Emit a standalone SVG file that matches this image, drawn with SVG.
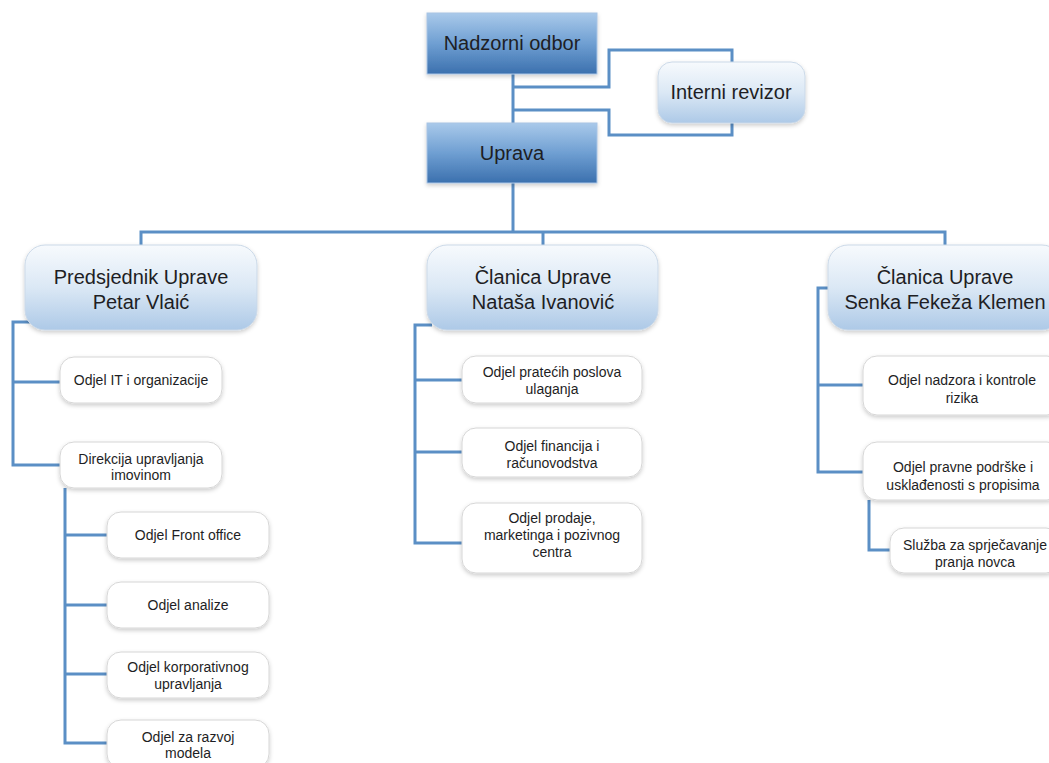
<svg xmlns="http://www.w3.org/2000/svg" width="1049" height="763" viewBox="0 0 1049 763">
<defs>
<linearGradient id="gTop" x1="0" y1="0" x2="0" y2="1">
<stop offset="0" stop-color="#a9c9ea"/>
<stop offset="0.5" stop-color="#6f9fd2"/>
<stop offset="1" stop-color="#3b70ae"/>
</linearGradient>
<linearGradient id="gMid" x1="0" y1="0" x2="0" y2="1">
<stop offset="0" stop-color="#f7fafd"/>
<stop offset="0.5" stop-color="#dbe8f5"/>
<stop offset="1" stop-color="#adc9e7"/>
</linearGradient>
<filter id="sh" x="-10%" y="-10%" width="120%" height="130%">
<feDropShadow dx="0" dy="2" stdDeviation="2" flood-color="#000" flood-opacity="0.2"/>
</filter>
</defs>
<style>
.top{fill:url(#gTop);stroke:#a8c4e4;stroke-width:1;filter:url(#sh)}
.mid{fill:url(#gMid);stroke:#cbd9e8;stroke-width:1;filter:url(#sh)}
.leaf{fill:#ffffff;stroke:#d6d6d6;stroke-width:1;filter:url(#sh)}
.c{fill:none;stroke:#5b8fc5;stroke-width:3}
text{font-family:"Liberation Sans",Arial,sans-serif;text-anchor:middle;fill:#1e1e24}
.t20{font-size:20px}
.t14{font-size:14px}
</style>
<rect width="1049" height="763" fill="#ffffff"/>
<g id="connectors">
<path class="c" d="M513,74 V123"/>
<path class="c" d="M513,87 H609 V50 H732 V62"/>
<path class="c" d="M513,110 H609 V135 H732 V123"/>
<path class="c" d="M513,183 V232"/>
<path class="c" d="M141,245 V232 H945 V245"/>
<path class="c" d="M543,232 V245"/>
<path class="c" d="M32,322 H13 V465 H60"/>
<path class="c" d="M13,382 H60"/>
<path class="c" d="M65,488 V743 H107"/>
<path class="c" d="M65,535 H107"/>
<path class="c" d="M65,605 H107"/>
<path class="c" d="M65,674 H107"/>
<path class="c" d="M432,325 H415 V543 H462"/>
<path class="c" d="M415,380 H462"/>
<path class="c" d="M415,452 H462"/>
<path class="c" d="M830,288 H818 V472 H863"/>
<path class="c" d="M818,385 H863"/>
<path class="c" d="M869,500 V550 H890"/>
</g>
<g id="nadzorni-odbor">
<rect class="top" x="427" y="13" width="170" height="61"/>
<text class="t20" x="512" y="50">Nadzorni odbor</text>
</g>
<g id="interni-revizor">
<rect class="mid" x="658" y="62" width="147" height="61" rx="14"/>
<text class="t20" x="731" y="99">Interni revizor</text>
</g>
<g id="uprava">
<rect class="top" x="427" y="123" width="170" height="60"/>
<text class="t20" x="512" y="160">Uprava</text>
</g>
<g id="predsjednik">
<rect class="mid" x="25" y="245" width="232" height="85" rx="20"/>
<text class="t20" x="141" y="284">Predsjednik Uprave</text>
<text class="t20" x="141" y="309">Petar Vlaić</text>
</g>
<g id="clanica-ivanovic">
<rect class="mid" x="427" y="245" width="231" height="85" rx="20"/>
<text class="t20" x="543" y="284">Članica Uprave</text>
<text class="t20" x="543" y="309">Nataša Ivanović</text>
</g>
<g id="clanica-klemen">
<rect class="mid" x="828" y="245" width="234" height="85" rx="20"/>
<text class="t20" x="945" y="284">Članica Uprave</text>
<text class="t20" x="945" y="309">Senka Fekeža Klemen</text>
</g>
<g id="odjel-it">
<rect class="leaf" x="60" y="357" width="162" height="46" rx="14"/>
<text class="t14" x="141" y="385">Odjel IT i organizacije</text>
</g>
<g id="direkcija">
<rect class="leaf" x="60" y="442" width="162" height="46" rx="14"/>
<text class="t14" x="141" y="464">Direkcija upravljanja</text>
<text class="t14" x="141" y="480">imovinom</text>
</g>
<g id="front-office">
<rect class="leaf" x="107" y="512" width="162" height="46" rx="14"/>
<text class="t14" x="188" y="540">Odjel Front office</text>
</g>
<g id="analize">
<rect class="leaf" x="107" y="582" width="162" height="46" rx="14"/>
<text class="t14" x="188" y="610">Odjel analize</text>
</g>
<g id="korporativno">
<rect class="leaf" x="107" y="652" width="162" height="46" rx="14"/>
<text class="t14" x="188" y="672">Odjel korporativnog</text>
<text class="t14" x="188" y="689">upravljanja</text>
</g>
<g id="razvoj-modela">
<rect class="leaf" x="107" y="720" width="162" height="48" rx="14"/>
<text class="t14" x="188" y="742">Odjel za razvoj</text>
<text class="t14" x="188" y="758">modela</text>
</g>
<g id="prateci-poslovi">
<rect class="leaf" x="462" y="356" width="180" height="47" rx="14"/>
<text class="t14" x="552" y="377">Odjel pratećih poslova</text>
<text class="t14" x="552" y="394">ulaganja</text>
</g>
<g id="financije">
<rect class="leaf" x="462" y="428" width="180" height="49" rx="14"/>
<text class="t14" x="552" y="451">Odjel financija i</text>
<text class="t14" x="552" y="468">računovodstva</text>
</g>
<g id="prodaja">
<rect class="leaf" x="462" y="503" width="180" height="70" rx="14"/>
<text class="t14" x="552" y="523">Odjel prodaje,</text>
<text class="t14" x="552" y="540">marketinga i pozivnog</text>
<text class="t14" x="552" y="557">centra</text>
</g>
<g id="nadzor-rizika">
<rect class="leaf" x="863" y="356" width="198" height="59" rx="14"/>
<text class="t14" x="962" y="385">Odjel nadzora i kontrole</text>
<text class="t14" x="962" y="403">rizika</text>
</g>
<g id="pravna-podrska">
<rect class="leaf" x="863" y="442" width="198" height="58" rx="14"/>
<text class="t14" x="963" y="472">Odjel pravne podrške i</text>
<text class="t14" x="963" y="490">usklađenosti s propisima</text>
</g>
<g id="sprjecavanje-pranja">
<rect class="leaf" x="890" y="528" width="170" height="45" rx="14"/>
<text class="t14" x="975" y="550">Služba za sprječavanje</text>
<text class="t14" x="975" y="567">pranja novca</text>
</g>
</svg>
